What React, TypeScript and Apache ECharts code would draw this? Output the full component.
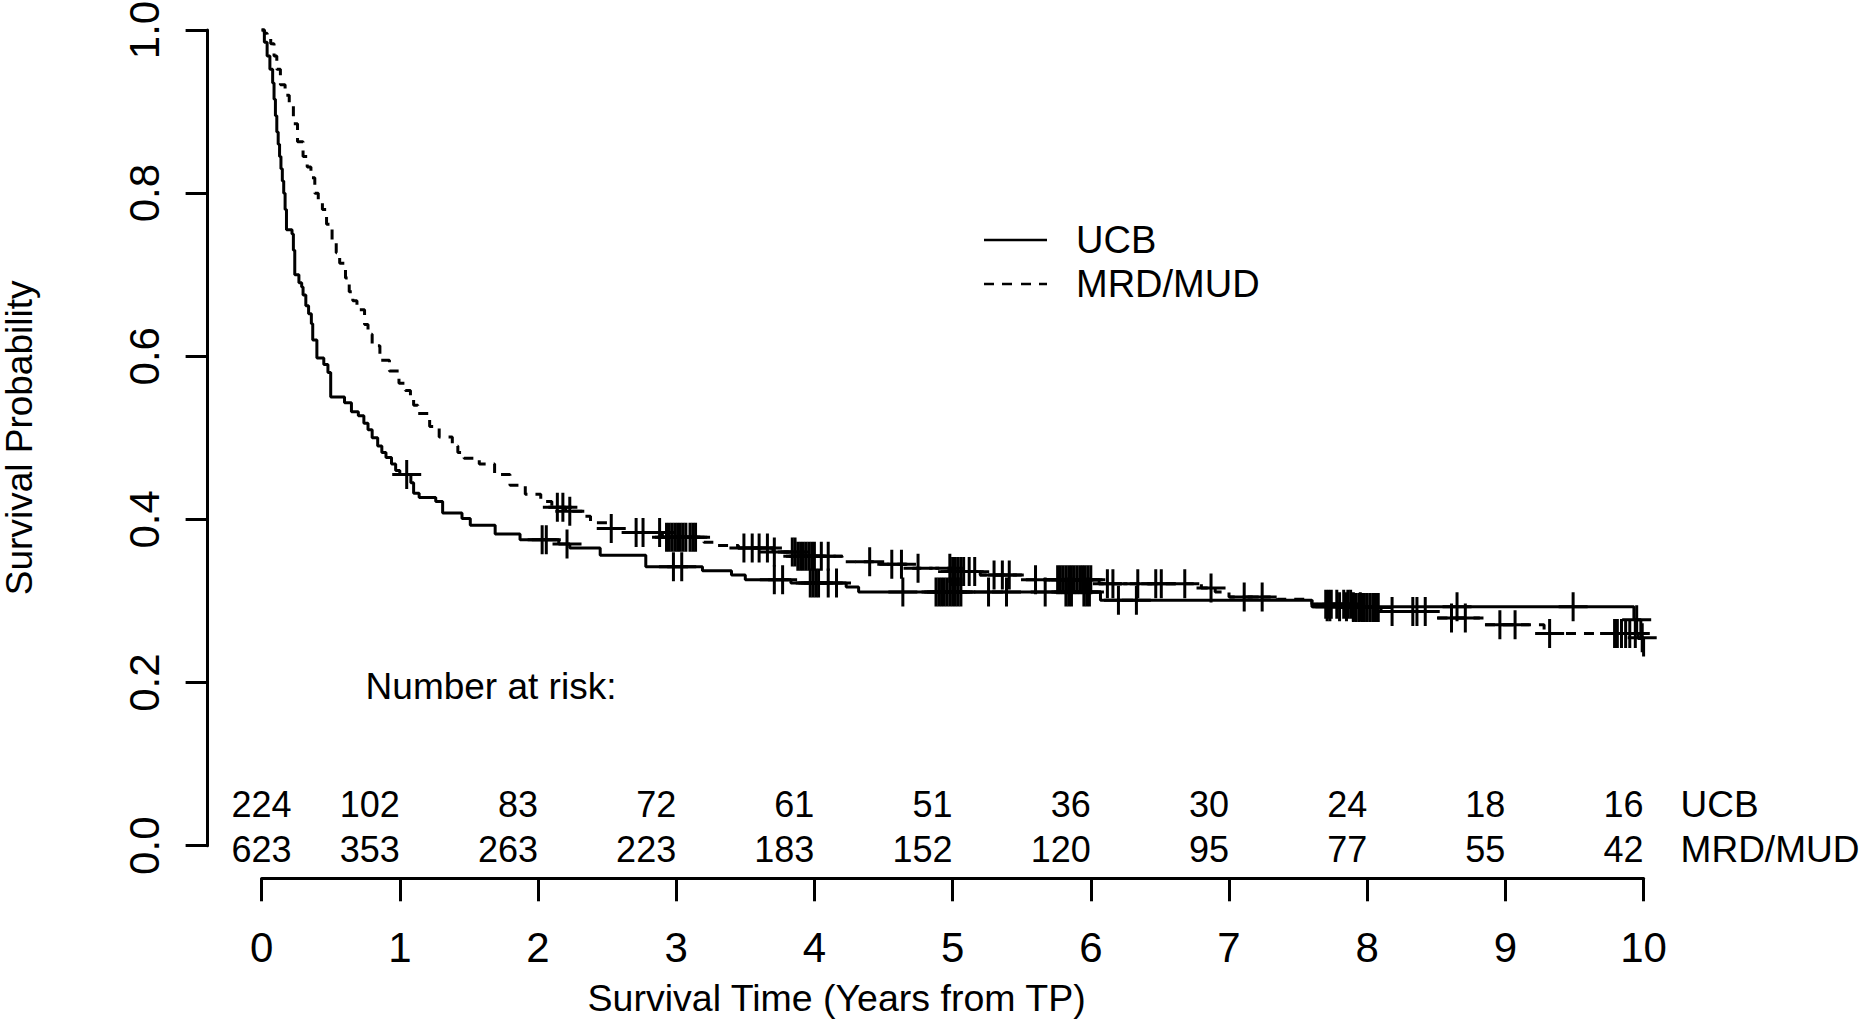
import React, { useEffect, useRef } from "react";
import * as echarts from "echarts";

const FONT = "'Liberation Sans', Arial, Helvetica, sans-serif";

// Kaplan-Meier step points (time in years, survival probability)
const ucbTime = [0, 0.02, 0.04, 0.06, 0.08, 0.09, 0.10, 0.11, 0.12, 0.13, 0.14, 0.15, 0.16, 0.17, 0.18, 0.22, 0.23, 0.24, 0.27, 0.29, 0.30, 0.32, 0.34, 0.36, 0.37, 0.40, 0.45, 0.48, 0.50, 0.60, 0.65, 0.70, 0.74, 0.77, 0.80, 0.84, 0.87, 0.90, 0.94, 0.97, 1.00, 1.08, 1.10, 1.14, 1.26, 1.31, 1.45, 1.51, 1.69, 1.87, 2.15, 2.23, 2.45, 2.78, 3.19, 3.40, 3.50, 3.83, 4.23, 4.32, 6.07, 7.60, 9.93, 9.98, 10.00];
const ucbSurv = [1.0, 0.985, 0.968, 0.952, 0.935, 0.915, 0.895, 0.875, 0.86, 0.845, 0.83, 0.815, 0.80, 0.78, 0.755, 0.75, 0.73, 0.70, 0.69, 0.685, 0.675, 0.662, 0.652, 0.64, 0.62, 0.598, 0.59, 0.58, 0.55, 0.543, 0.532, 0.527, 0.518, 0.51, 0.50, 0.49, 0.482, 0.476, 0.468, 0.46, 0.455, 0.445, 0.432, 0.427, 0.422, 0.408, 0.401, 0.393, 0.382, 0.375, 0.370, 0.365, 0.356, 0.342, 0.337, 0.332, 0.326, 0.322, 0.317, 0.311, 0.301, 0.293, 0.277, 0.255, 0.232];

const mrdTime = [0, 0.02, 0.04, 0.066, 0.09, 0.11, 0.136, 0.17, 0.2, 0.23, 0.26, 0.3, 0.33, 0.357, 0.385, 0.41, 0.44, 0.47, 0.51, 0.54, 0.565, 0.607, 0.634, 0.66, 0.69, 0.745, 0.77, 0.8, 0.856, 0.925, 0.994, 1.04, 1.077, 1.10, 1.13, 1.216, 1.285, 1.38, 1.42, 1.465, 1.575, 1.686, 1.797, 1.908, 2.02, 2.10, 2.2, 2.32, 2.38, 2.50, 2.59, 2.9, 3.2, 3.29, 3.45, 3.70, 3.87, 4.20, 4.44, 4.71, 5.0, 5.2, 5.5, 6.06, 6.8, 6.9, 7.0, 7.35, 7.6, 7.9, 8.1, 8.5, 8.85, 9.28, 9.96, 10.11];
const mrdSurv = [1.0, 0.996, 0.99, 0.983, 0.968, 0.952, 0.933, 0.92, 0.907, 0.885, 0.863, 0.845, 0.832, 0.819, 0.80, 0.79, 0.78, 0.762, 0.74, 0.727, 0.714, 0.696, 0.679, 0.668, 0.657, 0.639, 0.627, 0.613, 0.595, 0.582, 0.567, 0.558, 0.551, 0.54, 0.53, 0.514, 0.501, 0.49, 0.482, 0.475, 0.468, 0.455, 0.442, 0.431, 0.422, 0.415, 0.41, 0.404, 0.396, 0.389, 0.384, 0.378, 0.372, 0.368, 0.365, 0.36, 0.355, 0.348, 0.345, 0.34, 0.336, 0.332, 0.326, 0.321, 0.316, 0.311, 0.305, 0.302, 0.296, 0.292, 0.287, 0.279, 0.271, 0.260, 0.254, 0.254];

// censoring times
const ucbCensor = [1.05, 2.03, 2.06, 2.21, 2.98, 3.04, 3.71, 3.77, 3.97, 3.99, 4.01, 4.03, 4.10, 4.16, 4.64, 4.88, 4.90, 4.92, 4.94, 4.96, 4.98, 5.00, 5.02, 5.04, 5.06, 5.26, 5.39, 5.67, 5.82, 5.84, 5.86, 5.95, 5.97, 5.99, 6.20, 6.33, 7.71, 7.73, 7.80, 7.85, 7.90, 7.95, 8.65, 9.49, 9.95, 9.99];
const mrdCensor = [2.14, 2.18, 2.23, 2.53, 2.71, 2.76, 2.88, 2.93, 2.95, 2.97, 2.99, 3.01, 3.03, 3.05, 3.07, 3.10, 3.12, 3.14, 3.49, 3.55, 3.60, 3.66, 3.71, 3.84, 3.86, 3.88, 3.90, 3.92, 3.94, 3.96, 3.98, 4.00, 4.05, 4.10, 4.40, 4.56, 4.63, 4.75, 4.98, 5.00, 5.02, 5.04, 5.06, 5.08, 5.12, 5.16, 5.30, 5.36, 5.41, 5.60, 5.76, 5.78, 5.80, 5.82, 5.84, 5.86, 5.88, 5.90, 5.92, 5.94, 5.96, 5.98, 6.00, 6.12, 6.16, 6.34, 6.47, 6.51, 6.68, 6.87, 7.11, 7.24, 7.70, 7.72, 7.74, 7.78, 7.83, 7.86, 7.88, 7.90, 7.92, 7.94, 7.96, 7.98, 8.00, 8.02, 8.04, 8.06, 8.08, 8.18, 8.33, 8.36, 8.42, 8.61, 8.71, 8.96, 9.07, 9.32, 9.79, 9.81, 9.84, 9.87, 9.90, 9.94];

// number at risk table
const riskTimes = [0, 1, 2, 3, 4, 5, 6, 7, 8, 9, 10];
const ucbRisk = [224, 102, 83, 72, 61, 51, 36, 30, 24, 18, 16];
const mrdRisk = [623, 353, 263, 223, 183, 152, 120, 95, 77, 55, 42];

const groupNames = ["UCB", "MRD/MUD"];
const riskTitle = "Number at risk:";
const xTitle = "Survival Time (Years from TP)";
const yTitle = "Survival Probability";

const PLUS = "path://M13,0h3v13h13v3h-13v13h-3v-13h-13v-3h13z";
const ICON_SOLID = "path://M0,0h63v2.6h-63z";
const ICON_DASHED = "path://M0,0h10v2.6h-10z M18,0h10v2.6h-10z M37,0h10v2.6h-10z M55,0h8v2.6h-8z";

function survAt(times: number[], surv: number[], t: number): number {
  let s = surv[0];
  for (let i = 0; i < times.length; i++) {
    if (times[i] <= t) s = surv[i];
    else break;
  }
  return s;
}

export default function App() {
  const ref = useRef<HTMLDivElement>(null);

  useEffect(() => {
    const chart = echarts.init(ref.current!, null, { renderer: "svg" });
    const axisText = { fontFamily: FONT, color: "#000" };
    const option: any = {
      animation: false,
      backgroundColor: "#fff",
      grid: {
        left: 261.6,
        right: 216.4,
        top: 30,
        bottom: 173.3,
        containLabel: false,
        outerBoundsMode: "none",
      },
      legend: {
        show: true,
        orient: "vertical",
        left: 984,
        top: 220,
        padding: 0,
        itemWidth: 63,
        itemHeight: 24,
        itemGap: 4,
        selectedMode: false,
        data: [
          { name: groupNames[0], icon: ICON_SOLID },
          { name: groupNames[1], icon: ICON_DASHED },
        ],
        itemStyle: { color: "#000", opacity: 1 },
        textStyle: {
          fontSize: 38,
          fontFamily: FONT,
          color: "#000",
          lineHeight: 40,
          padding: [0, 0, 0, 24],
        },
      },
      xAxis: {
        type: "value",
        min: 0,
        max: 10,
        interval: 1,
        offset: 32.6,
        axisLine: { show: true, onZero: false, lineStyle: { color: "#000", width: 3 } },
        axisTick: { show: true, length: 23, lineStyle: { color: "#000", width: 3 } },
        splitLine: { show: false },
        axisLabel: { ...axisText, fontSize: 42, margin: 48 },
        name: xTitle,
        nameLocation: "middle",
        nameGap: 101,
        nameTextStyle: { ...axisText, fontSize: 37.5, padding: [0, 232, 0, 0] },
      },
      yAxis: {
        type: "value",
        min: 0,
        max: 1,
        interval: 0.2,
        offset: 54,
        axisLine: { show: true, onZero: false, lineStyle: { color: "#000", width: 3 } },
        axisTick: { show: true, length: 22, lineStyle: { color: "#000", width: 3 } },
        splitLine: { show: false },
        axisLabel: {
          ...axisText,
          fontSize: 42,
          rotate: 90,
          margin: 42,
          formatter: (v: number) => v.toFixed(1),
        },
        name: yTitle,
        nameLocation: "middle",
        nameRotate: 90,
        nameGap: 170,
        nameTextStyle: { ...axisText, fontSize: 37 },
      },
      series: [
        {
          name: groupNames[0],
          type: "line",
          step: "end",
          symbol: "none",
          showSymbol: false,
          clip: false,
          silent: true,
          data: ucbTime.map((t, i) => [t, ucbSurv[i]]),
          itemStyle: { color: "#000" },
          lineStyle: { color: "#000", width: 3, type: "solid" },
          z: 3,
        },
        {
          name: groupNames[1],
          type: "line",
          step: "end",
          symbol: "none",
          showSymbol: false,
          clip: false,
          silent: true,
          data: mrdTime.map((t, i) => [t, mrdSurv[i]]),
          itemStyle: { color: "#000" },
          lineStyle: { color: "#000", width: 3, type: [10, 8] },
          z: 3,
        },
        {
          name: "UCB censored",
          type: "scatter",
          symbol: PLUS,
          symbolSize: 29,
          clip: false,
          silent: true,
          itemStyle: { color: "#000", opacity: 1 },
          data: ucbCensor.map((c) => [c, survAt(ucbTime, ucbSurv, c)]),
          z: 4,
        },
        {
          name: "MRD/MUD censored",
          type: "scatter",
          symbol: PLUS,
          symbolSize: 29,
          clip: false,
          silent: true,
          itemStyle: { color: "#000", opacity: 1 },
          data: mrdCensor.map((c) => [c, survAt(mrdTime, mrdSurv, c)]),
          z: 4,
        },
      ],
    };
    chart.setOption(option);

    const textStyle = (text: string, align: string, size: number) => ({
      text,
      fill: "#000",
      fontSize: size,
      fontFamily: FONT,
      align,
      textAlign: align,
      verticalAlign: "middle",
      textVerticalAlign: "middle",
    });

    const graphics: any[] = [];
    const x0 = chart.convertToPixel({ xAxisIndex: 0 }, 0) as number;
    graphics.push({
      type: "text",
      x: x0 + 104,
      y: 686,
      style: textStyle(riskTitle, "left", 37),
      silent: true,
    });
    riskTimes.forEach((t, i) => {
      const x = chart.convertToPixel({ xAxisIndex: 0 }, t) as number;
      const align = i === 0 ? "center" : "right";
      graphics.push({ type: "text", x, y: 804, style: textStyle(String(ucbRisk[i]), align, 36), silent: true });
      graphics.push({ type: "text", x, y: 849, style: textStyle(String(mrdRisk[i]), align, 36), silent: true });
    });
    const xEnd = chart.convertToPixel({ xAxisIndex: 0 }, riskTimes[riskTimes.length - 1]) as number;
    graphics.push({ type: "text", x: xEnd + 37, y: 804, style: textStyle(groupNames[0], "left", 37), silent: true });
    graphics.push({ type: "text", x: xEnd + 37, y: 849, style: textStyle(groupNames[1], "left", 37), silent: true });
    chart.setOption({ graphic: graphics });

    return () => chart.dispose();
  }, []);

  return (
    <div
      ref={ref}
      style={{ position: "absolute", left: 0, top: 0, width: 1860, height: 1019, background: "#fff" }}
    />
  );
}
